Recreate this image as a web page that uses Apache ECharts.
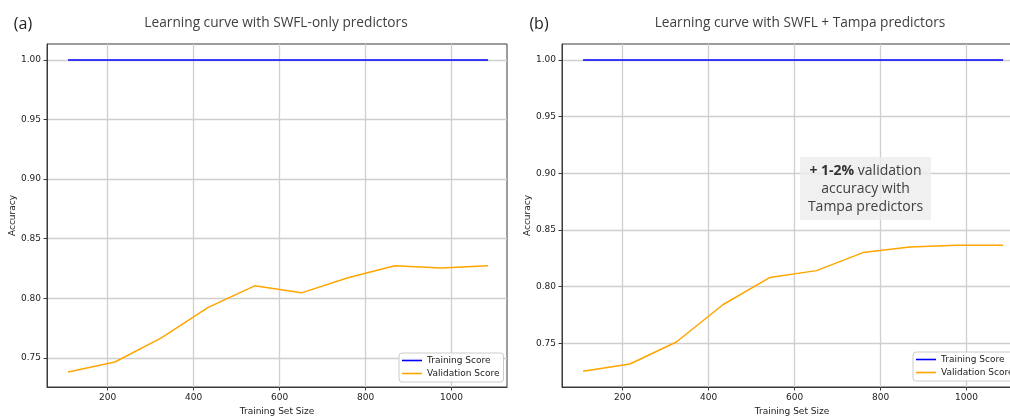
<!DOCTYPE html>
<html>
<head>
<meta charset="utf-8">
<script src="https://cdn.jsdelivr.net/npm/echarts@6/dist/echarts.min.js"></script>
<style>
  html, body { margin: 0; padding: 0; background: #ffffff; }
  #chart { width: 1010px; height: 416px; }
</style>
</head>
<body>
<div id="chart"></div>
<script>
// Training set sizes (x) shared by both learning curves
const trainSizes = [108, 217, 325, 434, 542, 651, 759, 868, 976, 1085];

// (a) SWFL-only predictors
const trainScoreA = [1.0, 1.0, 1.0, 1.0, 1.0, 1.0, 1.0, 1.0, 1.0, 1.0];
const validScoreA = [0.7382, 0.7466, 0.7668, 0.7924, 0.8105, 0.8046, 0.8172, 0.8273, 0.8254, 0.8273];

// (b) SWFL + Tampa predictors
const trainScoreB = [1.0, 1.0, 1.0, 1.0, 1.0, 1.0, 1.0, 1.0, 1.0, 1.0];
const validScoreB = [0.7253, 0.7317, 0.7511, 0.7842, 0.8080, 0.8141, 0.8300, 0.8350, 0.8365, 0.8366];

// Tick labels
const xTicks = [200, 400, 600, 800, 1000];
const yTicks = [0.75, 0.80, 0.85, 0.90, 0.95, 1.00];

const panelTitles = ['Learning curve with SWFL-only predictors', 'Learning curve with SWFL + Tampa predictors'];
const panelTags = ['(a)', '(b)'];
const seriesNames = ['Training Score', 'Validation Score'];

const MPL_FONT = 'DejaVu Sans';
const SLIDE_FONT = 'Open Sans';
const SPINE = '#3a3a3a';
const GRIDLINE = '#cfcfcf';

function pairs(xs, ys) { return xs.map((x, i) => [x, ys[i]]); }

function xAxisFor(gridIndex) {
  return {
    type: 'value', gridIndex, min: 59, max: 1129,
    name: 'Training Set Size', nameLocation: 'middle', nameGap: 18,
    nameTextStyle: { fontFamily: MPL_FONT, fontSize: 9, color: '#222' },
    axisLine: { show: true, onZero: false, lineStyle: { color: SPINE, width: 1 } },
    axisTick: { show: true, length: 3.5, customValues: xTicks, lineStyle: { color: SPINE, width: 1 } },
    axisLabel: { customValues: xTicks, margin: 6, fontFamily: MPL_FONT, fontSize: 9, color: '#222',
      formatter: v => String(Math.round(v)) },
    splitLine: { show: true, lineStyle: { color: GRIDLINE, width: 1.3 } }
  };
}
function yAxisFor(gridIndex, lo, hi) {
  return {
    type: 'value', gridIndex, min: lo, max: hi,
    name: 'Accuracy', nameLocation: 'middle', nameGap: 30, nameRotate: 90,
    nameTextStyle: { fontFamily: MPL_FONT, fontSize: 9, color: '#222' },
    axisLine: { show: true, onZero: false, lineStyle: { color: SPINE, width: 1 } },
    axisTick: { show: true, length: 3.5, customValues: yTicks, lineStyle: { color: SPINE, width: 1 } },
    axisLabel: { customValues: yTicks, margin: 6, fontFamily: MPL_FONT, fontSize: 9, color: '#222',
      formatter: v => v.toFixed(2) },
    splitLine: { show: true, lineStyle: { color: GRIDLINE, width: 1.3 } }
  };
}
function lineSeries(name, idx, data, color) {
  return {
    type: 'line', name, xAxisIndex: idx, yAxisIndex: idx, data,
    symbol: 'none', silent: true, animation: false,
    lineStyle: { color, width: 1.5 }, itemStyle: { color }, z: 3
  };
}
function legendAt(left, top) {
  return {
    data: seriesNames, orient: 'vertical', left, top,
    icon: 'rect', itemWidth: 20, itemHeight: 1.6,
    padding: [2, 4, 3, 3], itemGap: 2,
    backgroundColor: 'rgba(255,255,255,0.85)', borderColor: '#cccccc', borderWidth: 1, borderRadius: 3,
    textStyle: { fontFamily: MPL_FONT, fontSize: 9, color: '#222', lineHeight: 11 },
    selectedMode: false
  };
}

const chart = echarts.init(document.getElementById('chart'), null, { renderer: 'canvas' });
chart.setOption({
  animation: false,
  backgroundColor: '#ffffff',
  grid: [
    { left: 47, top: 44, width: 460, height: 343, show: true, borderColor: SPINE, borderWidth: 1, backgroundColor: 'transparent', outerBoundsMode: 'none', containLabel: false },
    { left: 562, top: 44, width: 460, height: 343, show: true, borderColor: SPINE, borderWidth: 1, backgroundColor: 'transparent', outerBoundsMode: 'none', containLabel: false }
  ],
  xAxis: [xAxisFor(0), xAxisFor(1)],
  yAxis: [yAxisFor(0, 0.7256, 1.0134), yAxisFor(1, 0.7114, 1.0141)],
  legend: [legendAt(399, 353), legendAt(913, 352)],
  series: [
    lineSeries(seriesNames[0], 0, pairs(trainSizes, trainScoreA), '#0000ff'),
    lineSeries(seriesNames[1], 0, pairs(trainSizes, validScoreA), '#ffa500'),
    lineSeries(seriesNames[0], 1, pairs(trainSizes, trainScoreB), '#0000ff'),
    lineSeries(seriesNames[1], 1, pairs(trainSizes, validScoreB), '#ffa500')
  ],
  graphic: [
    { type: 'text', x: 23, y: 24, style: { text: panelTags[0], fontFamily: SLIDE_FONT, fontSize: 16, fill: '#222', align: 'center', verticalAlign: 'middle' } },
    { type: 'text', x: 539, y: 24, style: { text: panelTags[1], fontFamily: SLIDE_FONT, fontSize: 16, fill: '#222', align: 'center', verticalAlign: 'middle' } },
    { type: 'text', x: 276, y: 23, style: { text: panelTitles[0], fontFamily: SLIDE_FONT, fontSize: 13.7, fill: '#404040', align: 'center', verticalAlign: 'middle' } },
    { type: 'text', x: 800, y: 23, style: { text: panelTitles[1], fontFamily: SLIDE_FONT, fontSize: 13.7, fill: '#404040', align: 'center', verticalAlign: 'middle' } },
    { type: 'rect', shape: { x: 800, y: 157, width: 131, height: 63 }, style: { fill: 'rgba(236,236,236,0.8)' }, z: 10 },
    { type: 'text', x: 865.5, y: 189.5, z: 11, style: {
        text: '{b|+ 1-2%} validation\naccuracy with\nTampa predictors',
        rich: { b: { fontWeight: 'bold', fontFamily: SLIDE_FONT, fontSize: 14, fill: '#333', lineHeight: 18 } },
        fontFamily: SLIDE_FONT, fontSize: 14, fill: '#404040', lineHeight: 18, align: 'center', verticalAlign: 'middle' } }
  ]
});
</script>
</body>
</html>
